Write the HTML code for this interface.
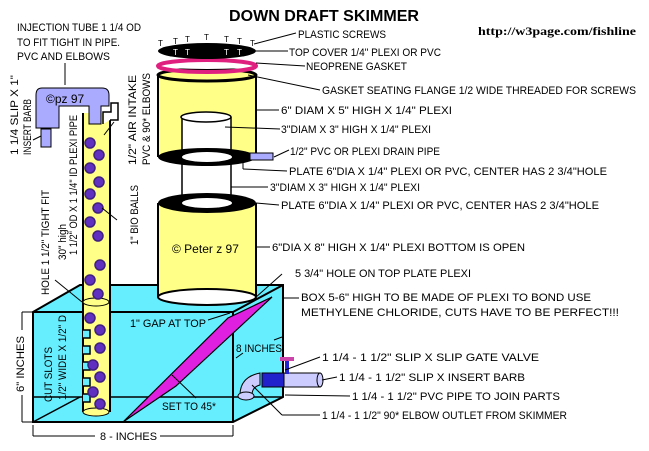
<!DOCTYPE html>
<html><head><meta charset="utf-8"><style>
html,body{margin:0;padding:0;background:#fff;width:649px;height:451px;overflow:hidden}
svg{display:block}
text{font-family:"Liberation Sans",sans-serif;font-size:11px;fill:#000}
</style></head><body>
<svg width="649" height="451" viewBox="0 0 649 451" xmlns="http://www.w3.org/2000/svg">
<!-- Box -->
<polygon points="33,312 80,285 283,285 283,397 233,422 33,422" fill="#6ef" stroke="#000" stroke-width="2"/>
<line x1="33" y1="312" x2="233" y2="312" stroke="#000" stroke-width="2"/>
<line x1="233" y1="312" x2="283" y2="285" stroke="#000" stroke-width="2"/>
<line x1="233" y1="312" x2="233" y2="422" stroke="#000" stroke-width="2"/>
<line x1="33" y1="397" x2="283" y2="397" stroke="#000" stroke-width="1.5"/>
<line x1="33" y1="422" x2="80" y2="397" stroke="#000" stroke-width="1.5"/>
<!-- bottom cylinder -->
<rect x="158" y="203" width="98" height="94" fill="#ff8"/>
<line x1="158" y1="203" x2="158" y2="297" stroke="#000" stroke-width="2"/>
<line x1="256" y1="203" x2="256" y2="297" stroke="#000" stroke-width="2"/>
<ellipse cx="207" cy="297" rx="49" ry="8" fill="#fff" stroke="#000" stroke-width="2"/>
<ellipse cx="207" cy="203" rx="49" ry="10" fill="#000"/>
<ellipse cx="207" cy="203" rx="25" ry="5" fill="#fff"/>
<line x1="182" y1="160" x2="182" y2="200" stroke="#000" stroke-width="1.5"/>
<line x1="231" y1="160" x2="231" y2="200" stroke="#000" stroke-width="1.5"/>
<!-- upper cylinder -->
<rect x="158" y="75" width="98" height="82" fill="#ff8"/>
<line x1="158" y1="75" x2="158" y2="157" stroke="#000" stroke-width="2"/>
<line x1="256" y1="75" x2="256" y2="157" stroke="#000" stroke-width="2"/>
<ellipse cx="207" cy="75" rx="49" ry="6" fill="#ff8" stroke="#000" stroke-width="3"/>
<rect x="182" y="117" width="49" height="40" fill="#fff"/>
<line x1="182" y1="117" x2="182" y2="157" stroke="#000" stroke-width="1.5"/>
<line x1="231" y1="117" x2="231" y2="157" stroke="#000" stroke-width="1.5"/>
<ellipse cx="206" cy="117" rx="25" ry="5" fill="#fff" stroke="#000" stroke-width="1.5"/>
<ellipse cx="207" cy="157" rx="49" ry="9" fill="#000"/>
<ellipse cx="207" cy="157" rx="25" ry="5" fill="#fff"/>
<rect x="250" y="153" width="23" height="7" fill="#aaf" stroke="#000"/>
<!-- gasket & cover -->
<ellipse cx="207" cy="66" rx="49" ry="6" fill="none" stroke="#e0207f" stroke-width="4"/>
<ellipse cx="207" cy="66" rx="43" ry="3" fill="#fff"/>
<ellipse cx="207" cy="51" rx="49" ry="8" fill="#000"/>
<g><text x="158" y="46" style="font-size:8px">T</text><text x="173" y="44" style="font-size:8px">T</text><text x="185" y="42" style="font-size:8px">T</text><text x="204" y="40" style="font-size:8px">T</text><text x="224" y="42" style="font-size:8px">T</text><text x="237" y="44" style="font-size:8px">T</text><text x="250" y="46" style="font-size:8px">T</text></g>
<g><text x="173" y="55" style="font-size:8px;fill:#fff">T</text><text x="185" y="55" style="font-size:8px;fill:#fff">T</text><text x="224" y="55" style="font-size:8px;fill:#fff">T</text><text x="237" y="55" style="font-size:8px;fill:#fff">T</text></g>
<!-- baffle -->
<polygon points="123,422 228,318 272,297 176,386" fill="#e020e0" stroke="#000" stroke-width="1.2"/>
<!-- vertical pipe -->
<rect x="83" y="113" width="27" height="300" fill="#ff8"/>
<line x1="83" y1="113" x2="83" y2="412" stroke="#000" stroke-width="2"/>
<line x1="110" y1="113" x2="110" y2="412" stroke="#000" stroke-width="2"/>
<ellipse cx="96" cy="302" rx="13" ry="4" fill="#ff8" stroke="#000"/>
<ellipse cx="96" cy="412" rx="13" ry="4" fill="#ff8" stroke="#000"/>
<path d="M83,330 h7 v8 h-7 M83,346 h7 v8 h-7 M83,362 h7 v8 h-7 M83,378 h7 v8 h-7 M83,394 h7 v8 h-7" fill="#6ef" stroke="#000" stroke-width="1.5"/>
<g fill="#6030c0" stroke="#402080" stroke-width="1.5">
<circle cx="90" cy="143" r="5"/><circle cx="99" cy="155" r="5"/><circle cx="90" cy="168" r="5"/><circle cx="99" cy="182" r="5"/><circle cx="90" cy="194" r="5"/><circle cx="98" cy="208" r="5"/><circle cx="90" cy="222" r="5"/><circle cx="98" cy="236" r="5"/><circle cx="100" cy="265" r="5"/><circle cx="90" cy="280" r="5"/><circle cx="98" cy="294" r="5"/><circle cx="90" cy="318" r="5"/><circle cx="100" cy="330" r="5"/><circle cx="100" cy="348" r="5"/><circle cx="93" cy="365" r="5"/><circle cx="100" cy="377" r="5"/><circle cx="93" cy="392" r="5"/><circle cx="100" cy="404" r="5"/>
</g>
<!-- injection tube -->
<path d="M42,88 h60 q7,0 7,7 v11 h-8 v18 h-12 v-18 h-30 v22 h-23 v-33 q0,-7 6,-7z" fill="#aaf" stroke="#000" stroke-width="1"/>
<rect x="41" y="129" width="10" height="18" fill="#aaf" stroke="#000"/>
<path d="M103,124 v-12 h8 v-9 h7 v17 h-8" fill="#fff" stroke="#000" stroke-width="1.5"/>
<!-- outlet -->
<path d="M240,395 q0,-18 20,-22 v12 q-8,2 -8,10z" fill="#ccf" stroke="#000"/>
<ellipse cx="246" cy="396" rx="8" ry="4" fill="#ccf" stroke="#000"/>
<rect x="262" y="373" width="58" height="14" fill="#ccf" stroke="#000"/>
<rect x="262" y="373" width="22" height="14" fill="#22c" stroke="#000"/>
<rect x="285" y="360" width="4" height="14" fill="#22c"/>
<rect x="280" y="357" width="14" height="4" fill="#c4a"/>
<ellipse cx="320" cy="380" rx="3" ry="7" fill="#ccf" stroke="#000"/>
<!-- leaders -->
<g stroke="#000" stroke-width="1" fill="none">
<line x1="254" y1="44" x2="296" y2="33"/><line x1="256" y1="51" x2="288" y2="51"/><line x1="256" y1="63" x2="305" y2="66"/>
<line x1="248" y1="75" x2="320" y2="90"/><line x1="256" y1="110" x2="279" y2="110"/><line x1="225" y1="127" x2="280" y2="129"/>
<line x1="274" y1="157" x2="289" y2="150"/><line x1="243" y1="163" x2="243" y2="169"/><line x1="243" y1="169" x2="287" y2="171"/>
<line x1="231" y1="187" x2="268" y2="187"/><line x1="256" y1="203" x2="279" y2="205"/><line x1="256" y1="247" x2="270" y2="247"/>
<line x1="255" y1="298" x2="282" y2="274"/><line x1="283" y1="298" x2="299" y2="298"/>
<line x1="285" y1="370" x2="320" y2="357"/><line x1="322" y1="380" x2="337" y2="377"/><line x1="285" y1="395" x2="350" y2="396"/>
<line x1="252" y1="385" x2="282" y2="415"/><line x1="282" y1="415" x2="320" y2="415"/>
<line x1="65" y1="63" x2="65" y2="85"/><line x1="41" y1="136" x2="33" y2="140"/>
<line x1="117" y1="220" x2="102" y2="208"/><line x1="104" y1="135" x2="114" y2="122"/>
<line x1="55" y1="280" x2="82" y2="302"/>
<line x1="33" y1="312" x2="22" y2="312"/><line x1="33" y1="422" x2="22" y2="422"/><line x1="22" y1="312" x2="22" y2="330"/><line x1="22" y1="395" x2="22" y2="422"/>
<line x1="33" y1="425" x2="33" y2="436"/><line x1="233" y1="425" x2="233" y2="436"/><line x1="33" y1="436" x2="95" y2="436"/><line x1="160" y1="436" x2="233" y2="436"/>
<line x1="208" y1="320" x2="230" y2="313"/><line x1="236" y1="358" x2="243" y2="353"/><line x1="274" y1="340" x2="282" y2="337"/>
<line x1="172" y1="375" x2="196" y2="398"/>
</g>
<!-- text -->
<g lengthAdjust="spacingAndGlyphs">
<text x="229" y="21" style="font-size:16px;font-weight:bold" textLength="190" lengthAdjust="spacingAndGlyphs">DOWN DRAFT SKIMMER</text>
<text x="478" y="35" style="font-family:'Liberation Serif',serif;font-size:12px;font-weight:bold" textLength="158" lengthAdjust="spacingAndGlyphs">http://w3page.com/fishline</text>
<text x="17" y="31" textLength="124" lengthAdjust="spacingAndGlyphs">INJECTION TUBE 1 1/4 OD</text>
<text x="17" y="46" textLength="103" lengthAdjust="spacingAndGlyphs">TO FIT TIGHT IN PIPE.</text>
<text x="17" y="60" textLength="93" lengthAdjust="spacingAndGlyphs">PVC AND ELBOWS</text>
<text x="46" y="103" style="font-size:12px">©pz 97</text>
<text x="298" y="38" textLength="88" lengthAdjust="spacingAndGlyphs">PLASTIC SCREWS</text>
<text x="289" y="56" textLength="152" lengthAdjust="spacingAndGlyphs">TOP COVER 1/4" PLEXI OR PVC</text>
<text x="306" y="70" textLength="101" lengthAdjust="spacingAndGlyphs">NEOPRENE GASKET</text>
<text x="322" y="94" textLength="314" lengthAdjust="spacingAndGlyphs">GASKET SEATING FLANGE 1/2 WIDE THREADED FOR SCREWS</text>
<text x="281" y="114" textLength="171" lengthAdjust="spacingAndGlyphs">6" DIAM X 5" HIGH X 1/4" PLEXI</text>
<text x="281" y="133" textLength="150" lengthAdjust="spacingAndGlyphs">3"DIAM X 3" HIGH X 1/4" PLEXI</text>
<text x="290" y="155" textLength="150" lengthAdjust="spacingAndGlyphs">1/2" PVC OR PLEXI DRAIN PIPE</text>
<text x="289" y="175" textLength="318" lengthAdjust="spacingAndGlyphs">PLATE 6"DIA X 1/4" PLEXI OR PVC, CENTER HAS 2 3/4"HOLE</text>
<text x="270" y="191" textLength="150" lengthAdjust="spacingAndGlyphs">3"DIAM X 3" HIGH X 1/4" PLEXI</text>
<text x="281" y="209" textLength="318" lengthAdjust="spacingAndGlyphs">PLATE 6"DIA X 1/4" PLEXI OR PVC, CENTER HAS 2 3/4"HOLE</text>
<text x="172" y="253" style="font-size:12px">© Peter z  97</text>
<text x="272" y="251" textLength="253" lengthAdjust="spacingAndGlyphs">6"DIA X 8" HIGH X 1/4" PLEXI BOTTOM IS OPEN</text>
<text x="295" y="277" textLength="176" lengthAdjust="spacingAndGlyphs">5 3/4" HOLE ON TOP PLATE PLEXI</text>
<text x="301" y="301" textLength="290" lengthAdjust="spacingAndGlyphs">BOX 5-6" HIGH TO BE MADE OF PLEXI TO BOND USE</text>
<text x="301" y="316" textLength="318" lengthAdjust="spacingAndGlyphs">METHYLENE CHLORIDE, CUTS HAVE TO BE PERFECT!!!</text>
<text x="130" y="327" textLength="76" lengthAdjust="spacingAndGlyphs">1" GAP AT TOP</text>
<text x="236" y="352" textLength="46" lengthAdjust="spacingAndGlyphs">8 INCHES</text>
<text x="162" y="410" textLength="54" lengthAdjust="spacingAndGlyphs">SET TO 45*</text>
<text x="100" y="440" textLength="57" lengthAdjust="spacingAndGlyphs">8 -  INCHES</text>
<text x="322" y="361" textLength="217" lengthAdjust="spacingAndGlyphs">1 1/4 - 1 1/2" SLIP X SLIP GATE VALVE</text>
<text x="339" y="381" textLength="186" lengthAdjust="spacingAndGlyphs">1 1/4 - 1 1/2" SLIP X INSERT BARB</text>
<text x="352" y="400" textLength="208" lengthAdjust="spacingAndGlyphs">1 1/4 - 1 1/2" PVC PIPE TO JOIN PARTS</text>
<text x="322" y="419" textLength="245" lengthAdjust="spacingAndGlyphs">1 1/4 - 1 1/2" 90* ELBOW OUTLET FROM SKIMMER</text>
<!-- rotated -->
<text transform="translate(18,155) rotate(-90)" textLength="80" lengthAdjust="spacingAndGlyphs">1 1/4 SLIP X 1"</text>
<text transform="translate(31,155) rotate(-90)" textLength="56" lengthAdjust="spacingAndGlyphs">INSERT BARB</text>
<text transform="translate(136,165) rotate(-90)" textLength="90" lengthAdjust="spacingAndGlyphs">1/2" AIR INTAKE</text>
<text transform="translate(150,165) rotate(-90)" textLength="92" lengthAdjust="spacingAndGlyphs">PVC &amp; 90* ELBOWS</text>
<text transform="translate(77,255) rotate(-90)" textLength="140" lengthAdjust="spacingAndGlyphs">1 1/2" OD X 1 1/4" ID  PLEXI PIPE</text>
<text transform="translate(66,260) rotate(-90)" textLength="36" lengthAdjust="spacingAndGlyphs">30" high</text>
<text transform="translate(49,295) rotate(-90)" textLength="105" lengthAdjust="spacingAndGlyphs">HOLE 1 1/2" TIGHT FIT</text>
<text transform="translate(138,245) rotate(-90)" textLength="60" lengthAdjust="spacingAndGlyphs">1" BIO BALLS</text>
<text transform="translate(52,402) rotate(-90)" textLength="55" lengthAdjust="spacingAndGlyphs">CUT SLOTS</text>
<text transform="translate(66,400) rotate(-90)" textLength="85" lengthAdjust="spacingAndGlyphs">1/2" WIDE X 1/2" D</text>
<text transform="translate(24,392) rotate(-90)" textLength="56" lengthAdjust="spacingAndGlyphs">6" INCHES</text>
</g>
</svg>
</body></html>
